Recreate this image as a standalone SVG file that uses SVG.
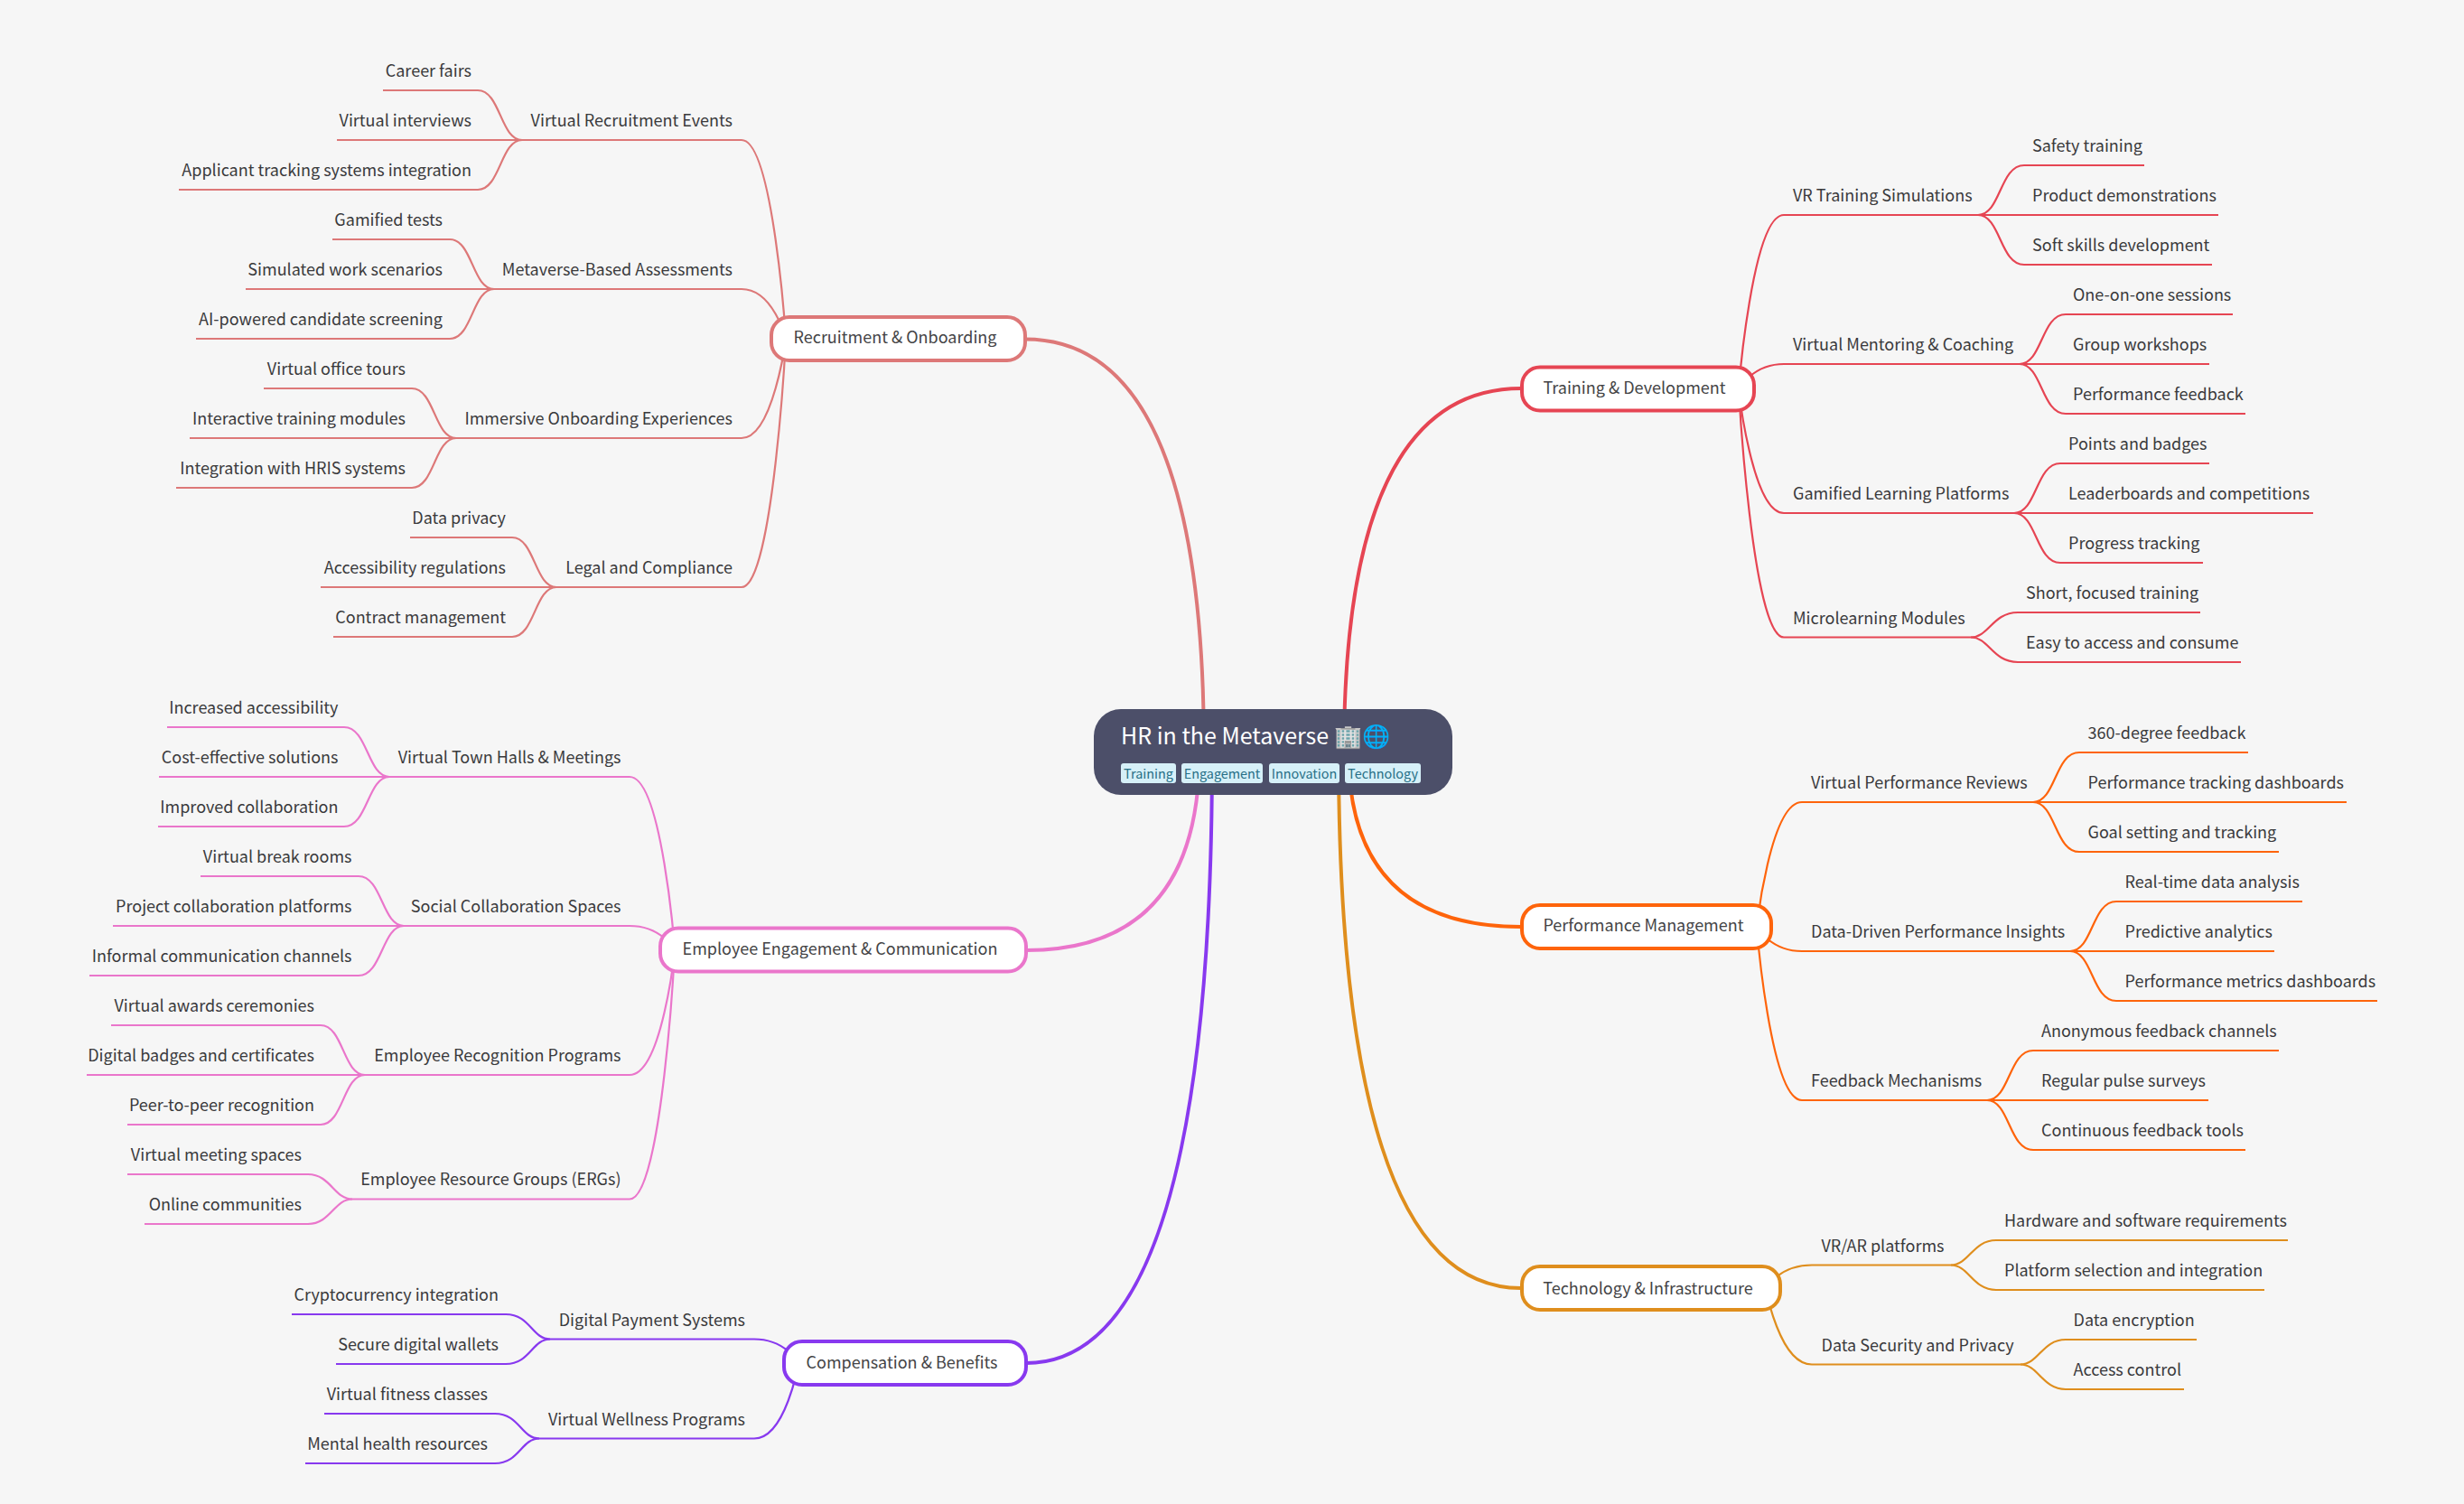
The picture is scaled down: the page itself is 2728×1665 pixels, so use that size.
<svg xmlns="http://www.w3.org/2000/svg" width="2728" height="1665" viewBox="0 0 2728 1665">
<style>
text{font-family:"Noto Sans CJK SC","Source Sans 3","Noto Sans",sans-serif;fill:#3a3a3c;font-size:18px}
.e{text-anchor:end}
.m{text-anchor:middle}
.main rect{fill:#fff;stroke-width:4}
.main text{fill:#444446}
path{fill:none}
.l{stroke-width:2.2}
.t{stroke-width:4}
.a{stroke:#e64553}.b{stroke:#fe640b}.c{stroke:#df8e1d}.d{stroke:#8839ef}.f{stroke:#ea76cb}.g{stroke:#dd7878}
.tag rect{fill:#d6f0f8}
.tag text{font-size:14.4px;fill:#276f86;text-anchor:middle}
</style>
<rect width="2728" height="1665" fill="#f6f6f6"/>
<g id="connectors">
<path class="t a" d="M1488 832Q1488 430 1684 430"/>
<path class="t b" d="M1493 832Q1493 1026 1684 1026"/>
<path class="t c" d="M1482 832Q1482 1426 1684 1426"/>
<path class="t d" d="M1342 832Q1342 1509 1136 1509"/>
<path class="t f" d="M1328 832Q1328 1052 1136 1052"/>
<path class="t g" d="M1333 832Q1333 375.500 1135 375.500"/>
<g class="l a">
<path d="M1925 431C1925 431 1940 238 1975 238H2190"/>
<path d="M1925 431C1925 431 1940 403 1975 403H2236"/>
<path d="M1925 431C1925 431 1940 568 1975 568H2230"/>
<path d="M1925 431C1925 431 1940 705.500 1975 705.500H2182"/>
<path d="M2190 238c25 0 24 -55 51 -55H2374"/><path d="M2190 238H2456"/><path d="M2190 238c25 0 24 55 51 55H2449"/>
<path d="M2236 403c25 0 24 -55 51 -55H2472"/><path d="M2236 403H2446"/><path d="M2236 403c25 0 24 55 51 55H2486"/>
<path d="M2230 568c25 0 24 -55 51 -55H2446"/><path d="M2230 568H2561"/><path d="M2230 568c25 0 24 55 51 55H2439"/>
<path d="M2182 705.500c20 0 24 -27.500 52 -27.500H2436"/><path d="M2182 705.500c20 0 24 27.500 52 27.500H2481"/>
</g>
<g class="l b">
<path d="M1945 1026C1945 1026 1960 888 1995 888H2251"/>
<path d="M1945 1026C1945 1026 1960 1053 1995 1053H2292"/>
<path d="M1945 1026C1945 1026 1960 1218 1995 1218H2200"/>
<path d="M2251 888c25 0 24 -55 51 -55H2489"/><path d="M2251 888H2598"/><path d="M2251 888c25 0 24 55 51 55H2523"/>
<path d="M2292 1053c25 0 24 -55 51 -55H2549"/><path d="M2292 1053H2518"/><path d="M2292 1053c25 0 24 55 51 55H2632"/>
<path d="M2200 1218c25 0 24 -55 51 -55H2523"/><path d="M2200 1218H2445"/><path d="M2200 1218c25 0 24 55 51 55H2486"/>
</g>
<g class="l c">
<path d="M1955 1426C1955 1426 1970 1400.500 2006 1400.500H2160"/>
<path d="M1955 1426C1955 1426 1970 1510.500 2006 1510.500H2237"/>
<path d="M2160 1400.500c20 0 24 -27.500 50 -27.500H2533"/><path d="M2160 1400.500c20 0 24 27.500 50 27.500H2507"/>
<path d="M2237 1510.500c20 0 24 -27.500 50 -27.500H2432"/><path d="M2237 1510.500c20 0 24 27.500 50 27.500H2418"/>
</g>
<g class="l d">
<path d="M884 1509C884 1509 870 1482.500 835 1482.500H609"/>
<path d="M884 1509C884 1509 870 1592.500 835 1592.500H597"/>
<path d="M609 1482.500c-20 0 -22 -27.500 -49 -27.500H323"/><path d="M609 1482.500c-20 0 -22 27.500 -49 27.500H372"/>
<path d="M597 1592.500c-20 0 -22 -27.500 -49 -27.500H359"/><path d="M597 1592.500c-20 0 -22 27.500 -49 27.500H338"/>
</g>
<g class="l f">
<path d="M747 1052C747 1052 733 860 697 860H431"/>
<path d="M747 1052C747 1052 733 1025 697 1025H447"/>
<path d="M747 1052C747 1052 733 1190 697 1190H404"/>
<path d="M747 1052C747 1052 733 1327.500 697 1327.500H390"/>
<path d="M431 860c-24 0 -24 -55 -50 -55H185"/><path d="M431 860H176"/><path d="M431 860c-24 0 -24 55 -50 55H175"/>
<path d="M447 1025c-24 0 -24 -55 -50 -55H222"/><path d="M447 1025H125"/><path d="M447 1025c-24 0 -24 55 -50 55H99"/>
<path d="M404 1190c-24 0 -24 -55 -49 -55H123"/><path d="M404 1190H96"/><path d="M404 1190c-24 0 -24 55 -49 55H141"/>
<path d="M390 1327.500c-20 0 -24 -27.500 -49 -27.500H141"/><path d="M390 1327.500c-20 0 -24 27.500 -49 27.500H160"/>
</g>
<g class="l g">
<path d="M870 375C870 375 856 155 821 155H578"/>
<path d="M870 375C870 375 856 320 821 320H547"/>
<path d="M870 375C870 375 856 485 821 485H505"/>
<path d="M870 375C870 375 856 650 821 650H616"/>
<path d="M578 155c-24 0 -24 -55 -49 -55H424"/><path d="M578 155H373"/><path d="M578 155c-24 0 -24 55 -49 55H198"/>
<path d="M547 320c-24 0 -24 -55 -49 -55H368"/><path d="M547 320H272"/><path d="M547 320c-24 0 -24 55 -49 55H217"/>
<path d="M505 485c-24 0 -24 -55 -49 -55H292"/><path d="M505 485H210"/><path d="M505 485c-24 0 -24 55 -49 55H195"/>
<path d="M616 650c-24 0 -24 -55 -49 -55H454"/><path d="M616 650H355"/><path d="M616 650c-24 0 -24 55 -49 55H369"/>
</g>
</g>
<g id="root">
<rect x="1211" y="785" width="397" height="95" rx="30" fill="#4c4f69"/>
<text x="1241" y="824" style="font-size:25px;fill:#fff">HR in the Metaverse 🏢🌐</text>
<g class="tag"><rect x="1241" y="845" width="61" height="22" rx="3"/><text x="1271.500" y="862">Training</text></g>
<g class="tag"><rect x="1308" y="845" width="90" height="22" rx="3"/><text x="1353" y="862">Engagement</text></g>
<g class="tag"><rect x="1405" y="845" width="78" height="22" rx="3"/><text x="1444" y="862">Innovation</text></g>
<g class="tag"><rect x="1489" y="845" width="84" height="22" rx="3"/><text x="1531" y="862">Technology</text></g>
</g>
<g id="n-training" class="main"><rect class="a" x="1685" y="406.500" width="257" height="48" rx="20"/><text class="m" x="1809.500" y="435.500">Training &amp; Development</text></g>
<g id="n-performance" class="main"><rect class="b" x="1685" y="1002" width="276" height="48" rx="20"/><text class="m" x="1819.500" y="1031">Performance Management</text></g>
<g id="n-technology" class="main"><rect class="c" x="1685" y="1402" width="286" height="48" rx="20"/><text class="m" x="1824.500" y="1432.500">Technology &amp; Infrastructure</text></g>
<g id="n-compensation" class="main"><rect class="d" x="868" y="1485" width="268" height="48" rx="20"/><text class="m" x="998.500" y="1515">Compensation &amp; Benefits</text></g>
<g id="n-engagement" class="main"><rect class="f" x="731" y="1027.500" width="405" height="48" rx="20"/><text class="m" x="930" y="1057">Employee Engagement &amp; Communication</text></g>
<g id="n-recruitment" class="main"><rect class="g" x="854" y="351" width="281" height="48" rx="20"/><text class="m" x="991" y="380">Recruitment &amp; Onboarding</text></g>

<g id="n-vr"><text x="1985" y="223">VR Training Simulations</text></g>
<g id="n-mentor"><text x="1985" y="388">Virtual Mentoring &amp; Coaching</text></g>
<g id="n-gamlearn"><text x="1985" y="553">Gamified Learning Platforms</text></g>
<g id="n-micro"><text x="1985" y="691">Microlearning Modules</text></g>
<g id="n-t1"><text x="2250" y="168">Safety training</text></g>
<g id="n-t2"><text x="2250" y="223">Product demonstrations</text></g>
<g id="n-t3"><text x="2250" y="278">Soft skills development</text></g>
<g id="n-t4"><text x="2295" y="333">One-on-one sessions</text></g>
<g id="n-t5"><text x="2295" y="388">Group workshops</text></g>
<g id="n-t6"><text x="2295" y="443">Performance feedback</text></g>
<g id="n-t7"><text x="2290" y="498">Points and badges</text></g>
<g id="n-t8"><text x="2290" y="553">Leaderboards and competitions</text></g>
<g id="n-t9"><text x="2290" y="608">Progress tracking</text></g>
<g id="n-t10"><text x="2243" y="663">Short, focused training</text></g>
<g id="n-t11"><text x="2243" y="718">Easy to access and consume</text></g>

<g id="n-vpr"><text x="2005" y="873">Virtual Performance Reviews</text></g>
<g id="n-ddpi"><text x="2005" y="1038">Data-Driven Performance Insights</text></g>
<g id="n-fm"><text x="2005" y="1203">Feedback Mechanisms</text></g>
<g id="n-p1"><text x="2311.500" y="818">360-degree feedback</text></g>
<g id="n-p2"><text x="2311.500" y="873">Performance tracking dashboards</text></g>
<g id="n-p3"><text x="2311.500" y="928">Goal setting and tracking</text></g>
<g id="n-p4"><text x="2352.500" y="983">Real-time data analysis</text></g>
<g id="n-p5"><text x="2352.500" y="1038">Predictive analytics</text></g>
<g id="n-p6"><text x="2352.500" y="1093">Performance metrics dashboards</text></g>
<g id="n-p7"><text x="2260" y="1148">Anonymous feedback channels</text></g>
<g id="n-p8"><text x="2260" y="1203">Regular pulse surveys</text></g>
<g id="n-p9"><text x="2260" y="1258">Continuous feedback tools</text></g>

<g id="n-vrar"><text x="2016.500" y="1386">VR/AR platforms</text></g>
<g id="n-dsp"><text x="2016.500" y="1496">Data Security and Privacy</text></g>
<g id="n-i1"><text x="2219" y="1358">Hardware and software requirements</text></g>
<g id="n-i2"><text x="2219" y="1413">Platform selection and integration</text></g>
<g id="n-i3"><text x="2295.500" y="1468">Data encryption</text></g>
<g id="n-i4"><text x="2295.500" y="1523">Access control</text></g>

<g id="n-dps"><text class="e" x="825" y="1468">Digital Payment Systems</text></g>
<g id="n-vwp"><text class="e" x="825" y="1578">Virtual Wellness Programs</text></g>
<g id="n-c1"><text class="e" x="552" y="1440">Cryptocurrency integration</text></g>
<g id="n-c2"><text class="e" x="552" y="1495">Secure digital wallets</text></g>
<g id="n-c3"><text class="e" x="540" y="1550">Virtual fitness classes</text></g>
<g id="n-c4"><text class="e" x="540" y="1605">Mental health resources</text></g>

<g id="n-vth"><text class="e" x="687.500" y="845">Virtual Town Halls &amp; Meetings</text></g>
<g id="n-scs"><text class="e" x="687.500" y="1010">Social Collaboration Spaces</text></g>
<g id="n-erp"><text class="e" x="687.500" y="1175">Employee Recognition Programs</text></g>
<g id="n-erg"><text class="e" x="687.500" y="1312">Employee Resource Groups (ERGs)</text></g>
<g id="n-e1"><text class="e" x="374.500" y="790">Increased accessibility</text></g>
<g id="n-e2"><text class="e" x="374.500" y="845">Cost-effective solutions</text></g>
<g id="n-e3"><text class="e" x="374.500" y="900">Improved collaboration</text></g>
<g id="n-e4"><text class="e" x="389.500" y="955">Virtual break rooms</text></g>
<g id="n-e5"><text class="e" x="389.500" y="1010">Project collaboration platforms</text></g>
<g id="n-e6"><text class="e" x="389.500" y="1065">Informal communication channels</text></g>
<g id="n-e7"><text class="e" x="348" y="1120">Virtual awards ceremonies</text></g>
<g id="n-e8"><text class="e" x="348" y="1175">Digital badges and certificates</text></g>
<g id="n-e9"><text class="e" x="348" y="1230">Peer-to-peer recognition</text></g>
<g id="n-e10"><text class="e" x="334" y="1285">Virtual meeting spaces</text></g>
<g id="n-e11"><text class="e" x="334" y="1340">Online communities</text></g>

<g id="n-vre"><text class="e" x="811" y="140">Virtual Recruitment Events</text></g>
<g id="n-mba"><text class="e" x="811" y="305">Metaverse-Based Assessments</text></g>
<g id="n-ioe"><text class="e" x="811" y="470">Immersive Onboarding Experiences</text></g>
<g id="n-lc"><text class="e" x="811" y="635">Legal and Compliance</text></g>
<g id="n-r1"><text class="e" x="522" y="85">Career fairs</text></g>
<g id="n-r2"><text class="e" x="522" y="140">Virtual interviews</text></g>
<g id="n-r3"><text class="e" x="522" y="195">Applicant tracking systems integration</text></g>
<g id="n-r4"><text class="e" x="490" y="250">Gamified tests</text></g>
<g id="n-r5"><text class="e" x="490" y="305">Simulated work scenarios</text></g>
<g id="n-r6"><text class="e" x="490" y="360">AI-powered candidate screening</text></g>
<g id="n-r7"><text class="e" x="449" y="415">Virtual office tours</text></g>
<g id="n-r8"><text class="e" x="449" y="470">Interactive training modules</text></g>
<g id="n-r9"><text class="e" x="449" y="525">Integration with HRIS systems</text></g>
<g id="n-r10"><text class="e" x="560" y="580">Data privacy</text></g>
<g id="n-r11"><text class="e" x="560" y="635">Accessibility regulations</text></g>
<g id="n-r12"><text class="e" x="560" y="690">Contract management</text></g>
</svg>
